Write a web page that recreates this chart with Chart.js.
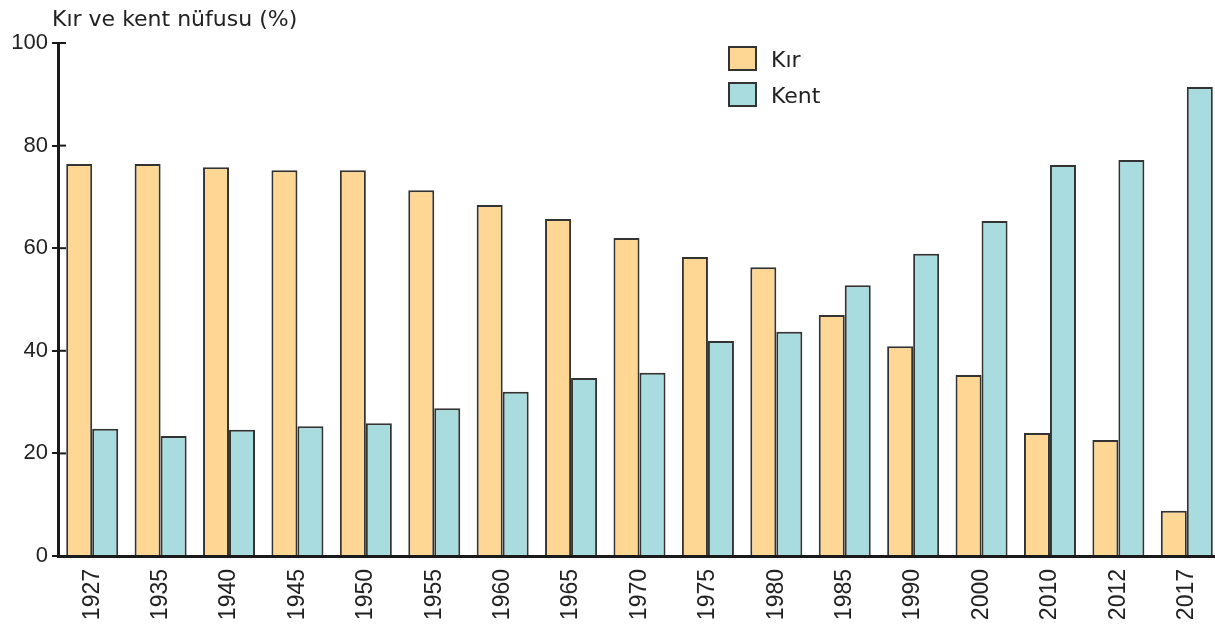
<!DOCTYPE html>
<html><head><meta charset="utf-8">
<script src="https://cdn.jsdelivr.net/npm/chart.js@4.4.0/dist/chart.umd.min.js"></script>
<style>html,body{margin:0;padding:0;background:#fff}#wrap{width:1215px;height:624px;position:relative}</style>
</head><body><div id="wrap"><canvas id="c" width="1215" height="624"></canvas></div>
<script>
const years = ['1927','1935','1940','1945','1950','1955','1960','1965','1970','1975','1980','1985','1990','2000','2010','2012','2017'];
const kir  = [76.4,76.4,75.8,75.2,75.2,71.3,68.4,65.7,62.0,58.3,56.3,47.0,40.9,35.3,24.0,22.6,8.8];
const kent = [24.8,23.4,24.6,25.3,25.9,28.8,32.0,34.7,35.7,41.9,43.7,52.8,58.9,65.3,76.2,77.2,91.4];
const yTicks = [0,20,40,60,80,100];
const titleText = 'Kır ve kent nüfusu (%)';
const labelFont = '"DejaVu Sans", sans-serif';

const extras = {
  id: 'extras',
  afterLayout(chart) {
    const x = chart.scales.x;
    x.right = x.left + 1163;
    x.width = 1163;
    x.configure();
  },
  afterDraw(chart) {
    const ctx = chart.ctx, y = chart.scales.y, area = chart.chartArea;
    ctx.save();
    ctx.strokeStyle = '#1a1a1a'; ctx.lineWidth = 2;
    yTicks.forEach(v => {
      const py = y.getPixelForValue(v);
      ctx.beginPath(); ctx.moveTo(area.left, py); ctx.lineTo(area.left + 8, py); ctx.stroke();
    });
    ctx.fillStyle = '#222'; ctx.font = '22px ' + labelFont; ctx.textBaseline = 'middle'; ctx.textAlign = 'left';
    ctx.fillText(titleText, 52, 20);
    chart.data.datasets.forEach((ds, i) => {
      const by = 47 + i * 36;
      ctx.fillStyle = ds.backgroundColor; ctx.fillRect(729, by, 27, 23);
      ctx.strokeStyle = '#333'; ctx.lineWidth = 2; ctx.strokeRect(729, by, 27, 23);
      ctx.fillStyle = '#222'; ctx.font = '22px ' + labelFont;
      ctx.fillText(ds.label, 771, by + 14);
    });
    ctx.restore();
  }
};

new Chart(document.getElementById('c'), {
  type: 'bar',
  data: {
    labels: years,
    datasets: [
      { label: 'Kır', data: kir, backgroundColor: '#FFD795', borderColor: '#333', borderWidth: 2, borderSkipped: 'bottom' },
      { label: 'Kent', data: kent, backgroundColor: '#A8DCDF', borderColor: '#333', borderWidth: 2, borderSkipped: 'bottom' }
    ]
  },
  options: {
    responsive: false, animation: false,
    layout: { padding: { top: 43, right: 0, left: 0, bottom: 0 } },
    plugins: { legend: { display: false }, title: { display: false }, tooltip: { enabled: false } },
    datasets: { bar: { categoryPercentage: 0.76, barPercentage: 1.0 } },
    scales: {
      x: {
        grid: { display: false },
        border: { display: true, color: '#1a1a1a', width: 3 },
        ticks: { color: '#222', font: { family: '"Liberation Sans", Arial, sans-serif', size: 23 }, minRotation: 90, maxRotation: 90, padding: 5 },
        afterFit: s => { s.height = 68; }
      },
      y: {
        min: 0, max: 100,
        afterBuildTicks: s => { s.ticks = yTicks.map(v => ({ value: v })); },
        grid: { drawOnChartArea: false, drawTicks: true, tickLength: 6, color: '#1a1a1a', lineWidth: 2 },
        border: { display: true, color: '#1a1a1a', width: 3 },
        ticks: { color: '#222', font: { family: '"Liberation Sans", Arial, sans-serif', size: 22 }, padding: 4 },
        afterFit: s => { s.width = 58; }
      }
    }
  },
  plugins: [extras]
});
</script></body></html>
